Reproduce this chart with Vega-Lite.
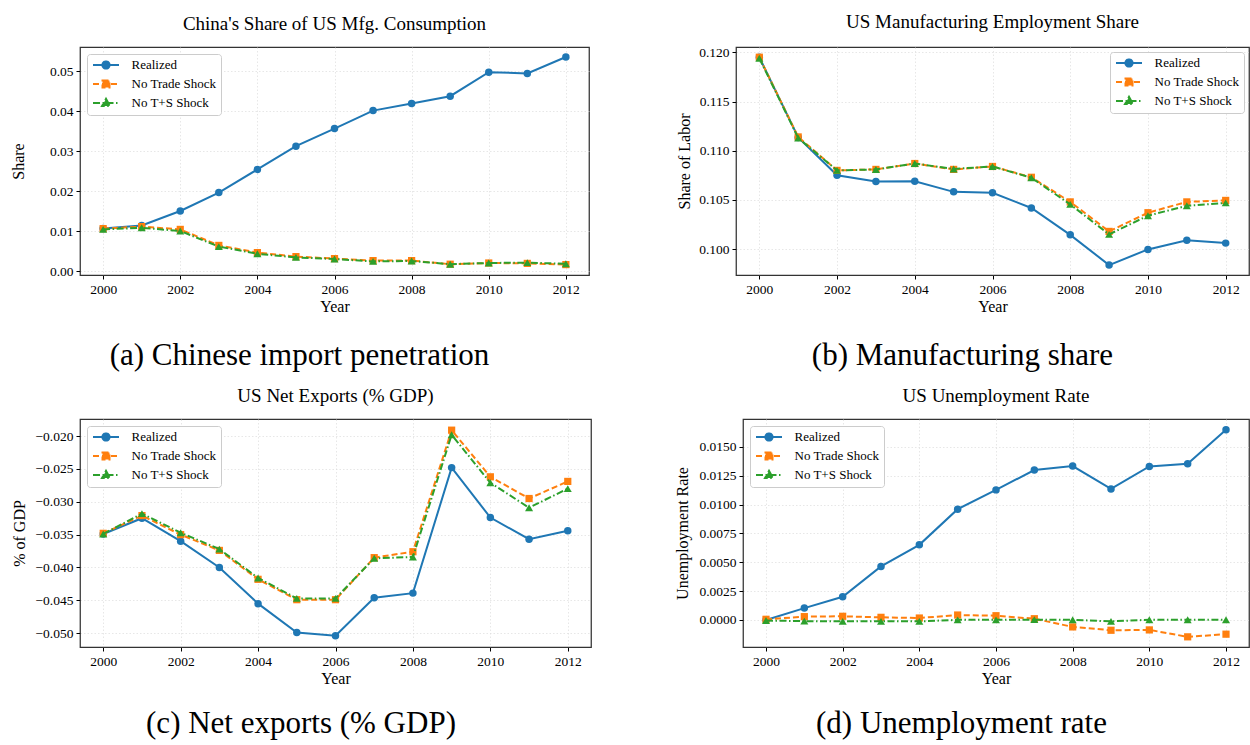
{
  "$schema": "https://vega.github.io/schema/vega-lite/v6.json",
  "padding": {"left": 9, "top": 12, "right": 0, "bottom": 0},
  "config": {
    "font": "Liberation Serif",
    "view": {"stroke": "#333333", "strokeWidth": 1.25},
    "axis": {
      "labelFont": "Liberation Serif", "labelFontSize": 13.5, "labelColor": "#000000",
      "titleFont": "Liberation Serif", "titleFontSize": 16, "titleFontWeight": "normal", "titleColor": "#000000",
      "tickColor": "#000000", "tickSize": 4, "tickWidth": 1, "labelPadding": 3,
      "domain": false, "grid": true, "gridColor": "#dcdcdc", "gridDash": [1.5, 2], "gridWidth": 0.7,
      "labelFlush": false, "labelOverlap": false
    },
    "axisX": {"titlePadding": 3},
    "axisY": {"titlePadding": 5},
    "legend": {
      "title": null, "labelFont": "Liberation Serif", "labelFontSize": 13, "labelColor": "#000000",
      "padding": 4.5, "strokeColor": "#cccccc", "fillColor": "#ffffff", "cornerRadius": 3,
      "rowPadding": 3, "labelOffset": 19, "symbolOffset": 8, "symbolSize": 100,
      "symbolStrokeWidth": 2, "symbolOpacity": 1, "offset": 6.5
    },
    "title": {"font": "Liberation Serif", "fontWeight": "normal", "fontSize": 19, "color": "#000000", "offset": 13, "anchor": "middle"}
  },
  "datasets": {
    "share": [
      {"year": 2000, "series": "Realized", "value": 0.0107}, {"year": 2001, "series": "Realized", "value": 0.0115},
      {"year": 2002, "series": "Realized", "value": 0.0151}, {"year": 2003, "series": "Realized", "value": 0.0197},
      {"year": 2004, "series": "Realized", "value": 0.0255}, {"year": 2005, "series": "Realized", "value": 0.0313},
      {"year": 2006, "series": "Realized", "value": 0.0357}, {"year": 2007, "series": "Realized", "value": 0.0402},
      {"year": 2008, "series": "Realized", "value": 0.0420}, {"year": 2009, "series": "Realized", "value": 0.0438},
      {"year": 2010, "series": "Realized", "value": 0.0498}, {"year": 2011, "series": "Realized", "value": 0.0495},
      {"year": 2012, "series": "Realized", "value": 0.0536},
      {"year": 2000, "series": "No Trade Shock", "value": 0.0107}, {"year": 2001, "series": "No Trade Shock", "value": 0.0112},
      {"year": 2002, "series": "No Trade Shock", "value": 0.0105}, {"year": 2003, "series": "No Trade Shock", "value": 0.0065},
      {"year": 2004, "series": "No Trade Shock", "value": 0.0047}, {"year": 2005, "series": "No Trade Shock", "value": 0.0037},
      {"year": 2006, "series": "No Trade Shock", "value": 0.0032}, {"year": 2007, "series": "No Trade Shock", "value": 0.0027},
      {"year": 2008, "series": "No Trade Shock", "value": 0.0027}, {"year": 2009, "series": "No Trade Shock", "value": 0.0018},
      {"year": 2010, "series": "No Trade Shock", "value": 0.0021}, {"year": 2011, "series": "No Trade Shock", "value": 0.0020},
      {"year": 2012, "series": "No Trade Shock", "value": 0.0017},
      {"year": 2000, "series": "No T+S Shock", "value": 0.0105}, {"year": 2001, "series": "No T+S Shock", "value": 0.0109},
      {"year": 2002, "series": "No T+S Shock", "value": 0.0101}, {"year": 2003, "series": "No T+S Shock", "value": 0.0062},
      {"year": 2004, "series": "No T+S Shock", "value": 0.0044}, {"year": 2005, "series": "No T+S Shock", "value": 0.0035},
      {"year": 2006, "series": "No T+S Shock", "value": 0.0031}, {"year": 2007, "series": "No T+S Shock", "value": 0.0025},
      {"year": 2008, "series": "No T+S Shock", "value": 0.0026}, {"year": 2009, "series": "No T+S Shock", "value": 0.0018},
      {"year": 2010, "series": "No T+S Shock", "value": 0.0021}, {"year": 2011, "series": "No T+S Shock", "value": 0.0022},
      {"year": 2012, "series": "No T+S Shock", "value": 0.0019}
    ],
    "mfg": [
      {"year": 2000, "series": "Realized", "value": 0.1195}, {"year": 2001, "series": "Realized", "value": 0.11135},
      {"year": 2002, "series": "Realized", "value": 0.1075}, {"year": 2003, "series": "Realized", "value": 0.10687},
      {"year": 2004, "series": "Realized", "value": 0.1069}, {"year": 2005, "series": "Realized", "value": 0.10582},
      {"year": 2006, "series": "Realized", "value": 0.10572}, {"year": 2007, "series": "Realized", "value": 0.10418},
      {"year": 2008, "series": "Realized", "value": 0.10145}, {"year": 2009, "series": "Realized", "value": 0.09838},
      {"year": 2010, "series": "Realized", "value": 0.09997}, {"year": 2011, "series": "Realized", "value": 0.10091},
      {"year": 2012, "series": "Realized", "value": 0.10061},
      {"year": 2000, "series": "No Trade Shock", "value": 0.1195}, {"year": 2001, "series": "No Trade Shock", "value": 0.1114},
      {"year": 2002, "series": "No Trade Shock", "value": 0.1080}, {"year": 2003, "series": "No Trade Shock", "value": 0.1081},
      {"year": 2004, "series": "No Trade Shock", "value": 0.1087}, {"year": 2005, "series": "No Trade Shock", "value": 0.1081},
      {"year": 2006, "series": "No Trade Shock", "value": 0.1084}, {"year": 2007, "series": "No Trade Shock", "value": 0.1073},
      {"year": 2008, "series": "No Trade Shock", "value": 0.1048}, {"year": 2009, "series": "No Trade Shock", "value": 0.1018},
      {"year": 2010, "series": "No Trade Shock", "value": 0.1037}, {"year": 2011, "series": "No Trade Shock", "value": 0.1048},
      {"year": 2012, "series": "No Trade Shock", "value": 0.10495},
      {"year": 2000, "series": "No T+S Shock", "value": 0.1194}, {"year": 2001, "series": "No T+S Shock", "value": 0.1113},
      {"year": 2002, "series": "No T+S Shock", "value": 0.1080}, {"year": 2003, "series": "No T+S Shock", "value": 0.1081},
      {"year": 2004, "series": "No T+S Shock", "value": 0.1087}, {"year": 2005, "series": "No T+S Shock", "value": 0.10815},
      {"year": 2006, "series": "No T+S Shock", "value": 0.1084}, {"year": 2007, "series": "No T+S Shock", "value": 0.10725},
      {"year": 2008, "series": "No T+S Shock", "value": 0.10455}, {"year": 2009, "series": "No T+S Shock", "value": 0.1015},
      {"year": 2010, "series": "No T+S Shock", "value": 0.1034}, {"year": 2011, "series": "No T+S Shock", "value": 0.1044},
      {"year": 2012, "series": "No T+S Shock", "value": 0.1047}
    ],
    "nx": [
      {"year": 2000, "series": "Realized", "value": -0.0349}, {"year": 2001, "series": "Realized", "value": -0.0325},
      {"year": 2002, "series": "Realized", "value": -0.0360}, {"year": 2003, "series": "Realized", "value": -0.0400},
      {"year": 2004, "series": "Realized", "value": -0.0455}, {"year": 2005, "series": "Realized", "value": -0.0499},
      {"year": 2006, "series": "Realized", "value": -0.0504}, {"year": 2007, "series": "Realized", "value": -0.0446},
      {"year": 2008, "series": "Realized", "value": -0.0439}, {"year": 2009, "series": "Realized", "value": -0.0248},
      {"year": 2010, "series": "Realized", "value": -0.0324}, {"year": 2011, "series": "Realized", "value": -0.0357},
      {"year": 2012, "series": "Realized", "value": -0.0344},
      {"year": 2000, "series": "No Trade Shock", "value": -0.0348}, {"year": 2001, "series": "No Trade Shock", "value": -0.0321},
      {"year": 2002, "series": "No Trade Shock", "value": -0.0350}, {"year": 2003, "series": "No Trade Shock", "value": -0.0374},
      {"year": 2004, "series": "No Trade Shock", "value": -0.0418}, {"year": 2005, "series": "No Trade Shock", "value": -0.0449},
      {"year": 2006, "series": "No Trade Shock", "value": -0.0449}, {"year": 2007, "series": "No Trade Shock", "value": -0.0385},
      {"year": 2008, "series": "No Trade Shock", "value": -0.0376}, {"year": 2009, "series": "No Trade Shock", "value": -0.0191},
      {"year": 2010, "series": "No Trade Shock", "value": -0.0262}, {"year": 2011, "series": "No Trade Shock", "value": -0.0295},
      {"year": 2012, "series": "No Trade Shock", "value": -0.0269},
      {"year": 2000, "series": "No T+S Shock", "value": -0.0349}, {"year": 2001, "series": "No T+S Shock", "value": -0.0318},
      {"year": 2002, "series": "No T+S Shock", "value": -0.0347}, {"year": 2003, "series": "No T+S Shock", "value": -0.0372},
      {"year": 2004, "series": "No T+S Shock", "value": -0.0416}, {"year": 2005, "series": "No T+S Shock", "value": -0.0447},
      {"year": 2006, "series": "No T+S Shock", "value": -0.0447}, {"year": 2007, "series": "No T+S Shock", "value": -0.0386},
      {"year": 2008, "series": "No T+S Shock", "value": -0.0384}, {"year": 2009, "series": "No T+S Shock", "value": -0.0198},
      {"year": 2010, "series": "No T+S Shock", "value": -0.0271}, {"year": 2011, "series": "No T+S Shock", "value": -0.0309},
      {"year": 2012, "series": "No T+S Shock", "value": -0.0280}
    ],
    "unemp": [
      {"year": 2000, "series": "Realized", "value": 0.0}, {"year": 2001, "series": "Realized", "value": 0.00103},
      {"year": 2002, "series": "Realized", "value": 0.00201}, {"year": 2003, "series": "Realized", "value": 0.00464},
      {"year": 2004, "series": "Realized", "value": 0.00651}, {"year": 2005, "series": "Realized", "value": 0.0096},
      {"year": 2006, "series": "Realized", "value": 0.01127}, {"year": 2007, "series": "Realized", "value": 0.01299},
      {"year": 2008, "series": "Realized", "value": 0.01333}, {"year": 2009, "series": "Realized", "value": 0.01135},
      {"year": 2010, "series": "Realized", "value": 0.0133}, {"year": 2011, "series": "Realized", "value": 0.01353},
      {"year": 2012, "series": "Realized", "value": 0.01648},
      {"year": 2000, "series": "No Trade Shock", "value": 0.00006}, {"year": 2001, "series": "No Trade Shock", "value": 0.00029},
      {"year": 2002, "series": "No Trade Shock", "value": 0.00032}, {"year": 2003, "series": "No Trade Shock", "value": 0.00023},
      {"year": 2004, "series": "No Trade Shock", "value": 0.00017}, {"year": 2005, "series": "No Trade Shock", "value": 0.00043},
      {"year": 2006, "series": "No Trade Shock", "value": 0.00037}, {"year": 2007, "series": "No Trade Shock", "value": 0.00011},
      {"year": 2008, "series": "No Trade Shock", "value": -0.0006}, {"year": 2009, "series": "No Trade Shock", "value": -0.00089},
      {"year": 2010, "series": "No Trade Shock", "value": -0.00086}, {"year": 2011, "series": "No Trade Shock", "value": -0.00146},
      {"year": 2012, "series": "No Trade Shock", "value": -0.00123},
      {"year": 2000, "series": "No T+S Shock", "value": -0.00005}, {"year": 2001, "series": "No T+S Shock", "value": -0.0001},
      {"year": 2002, "series": "No T+S Shock", "value": -0.00012}, {"year": 2003, "series": "No T+S Shock", "value": -0.00012},
      {"year": 2004, "series": "No T+S Shock", "value": -0.00012}, {"year": 2005, "series": "No T+S Shock", "value": 0.00001},
      {"year": 2006, "series": "No T+S Shock", "value": 0.00001}, {"year": 2007, "series": "No T+S Shock", "value": 0.00003},
      {"year": 2008, "series": "No T+S Shock", "value": 0.00002}, {"year": 2009, "series": "No T+S Shock", "value": -0.00012},
      {"year": 2010, "series": "No T+S Shock", "value": 0.00002}, {"year": 2011, "series": "No T+S Shock", "value": 0.00002},
      {"year": 2012, "series": "No T+S Shock", "value": 0.00002}
    ]
  },
  "columns": 1,
  "align": "none",
  "spacing": 14,
  "resolve": {"scale": {"x": "independent", "y": "independent", "color": "independent"}, "legend": {"color": "independent"}},
  "concat": [
    {
      "spacing": 85,
      "resolve": {"scale": {"x": "independent", "y": "independent", "color": "independent"}, "legend": {"color": "independent"}},
      "hconcat": [
        {
          "title": {"text": "(a) Chinese import penetration", "orient": "bottom", "fontSize": 31, "offset": 26, "anchor": "middle"},
          "resolve": {"scale": {"x": "independent", "y": "independent", "color": "independent"}, "legend": {"color": "independent"}},
          "vconcat": [
            {
              "title": "China's Share of US Mfg. Consumption",
              "width": 509, "height": 228,
              "data": {"name": "share"},
              "encoding": {
                "x": {"field": "year", "type": "quantitative", "scale": {"domain": [1999.4, 2012.6], "nice": false, "zero": false},
                      "axis": {"title": "Year", "values": [2000, 2002, 2004, 2006, 2008, 2010, 2012], "format": "d"}},
                "y": {"field": "value", "type": "quantitative", "scale": {"domain": [-0.0009, 0.0561], "nice": false, "zero": false},
                      "axis": {"title": "Share", "values": [0, 0.01, 0.02, 0.03, 0.04, 0.05], "format": ".2f", "minExtent": 49, "maxExtent": 49, "titlePadding": 5}},
                "color": {"field": "series", "type": "nominal",
                          "scale": {"domain": ["Realized", "No Trade Shock", "No T+S Shock"], "range": ["#1f77b4", "#ff7f0e", "#2ca02c"]},
                          "legend": {"orient": "top-left",
                                     "encode": {"symbols": {"update": {
                                       "shape": {"signal": "datum.value === 'Realized' ? 'M-2.6,0H2.6M-0.72,0A0.72,0.72 0 1,1 0.72,0A0.72,0.72 0 1,1 -0.72,0Z' : datum.value === 'No Trade Shock' ? 'M-2.6,0H2.6M-0.7,-0.7H0.7V0.7H-0.7Z' : 'M-2.6,0H2.6M0,-0.82L0.8,0.62H-0.8Z'"},
                                       "strokeDash": {"signal": "datum.value === 'Realized' ? [1, 0] : datum.value === 'No Trade Shock' ? [6, 3] : [7, 2.5, 1.5, 2.5]"},
                                       "fill": {"signal": "datum.value === 'Realized' ? '#1f77b4' : datum.value === 'No Trade Shock' ? '#ff7f0e' : '#2ca02c'"},
                                       "stroke": {"signal": "datum.value === 'Realized' ? '#1f77b4' : datum.value === 'No Trade Shock' ? '#ff7f0e' : '#2ca02c'"},
                                       "opacity": {"value": 1}}}}}}
              },
              "layer": [
                {"transform": [{"filter": {"field": "series", "equal": "Realized"}}],
                 "mark": {"type": "line", "strokeWidth": 2, "point": {"filled": true, "shape": "circle", "size": 56, "opacity": 1}}},
                {"transform": [{"filter": {"field": "series", "equal": "No Trade Shock"}}],
                 "mark": {"type": "line", "strokeWidth": 2, "strokeDash": [6, 3], "point": {"filled": true, "shape": "square", "size": 52, "opacity": 1}}},
                {"transform": [{"filter": {"field": "series", "equal": "No T+S Shock"}}],
                 "mark": {"type": "line", "strokeWidth": 2, "strokeDash": [7, 2.5, 1.5, 2.5], "point": {"filled": true, "shape": "triangle-up", "size": 64, "opacity": 1}}}
              ]
            }
          ]
        },
        {
          "title": {"text": "(b) Manufacturing share", "orient": "bottom", "fontSize": 31, "offset": 26, "anchor": "middle"},
          "resolve": {"scale": {"x": "independent", "y": "independent", "color": "independent"}, "legend": {"color": "independent"}},
          "vconcat": [
            {
              "title": "US Manufacturing Employment Share",
              "width": 513, "height": 228,
              "data": {"name": "mfg"},
              "encoding": {
                "x": {"field": "year", "type": "quantitative", "scale": {"domain": [1999.4, 2012.6], "nice": false, "zero": false},
                      "axis": {"title": "Year", "values": [2000, 2002, 2004, 2006, 2008, 2010, 2012], "format": "d"}},
                "y": {"field": "value", "type": "quantitative", "scale": {"domain": [0.09737, 0.12054], "nice": false, "zero": false},
                      "axis": {"title": "Share of Labor", "values": [0.100, 0.105, 0.110, 0.115, 0.120], "format": ".3f", "minExtent": 39, "maxExtent": 39, "titlePadding": 5}},
                "color": {"field": "series", "type": "nominal",
                          "scale": {"domain": ["Realized", "No Trade Shock", "No T+S Shock"], "range": ["#1f77b4", "#ff7f0e", "#2ca02c"]},
                          "legend": {"orient": "top-right", "offset": 5,
                                     "encode": {"symbols": {"update": {
                                       "shape": {"signal": "datum.value === 'Realized' ? 'M-2.6,0H2.6M-0.72,0A0.72,0.72 0 1,1 0.72,0A0.72,0.72 0 1,1 -0.72,0Z' : datum.value === 'No Trade Shock' ? 'M-2.6,0H2.6M-0.7,-0.7H0.7V0.7H-0.7Z' : 'M-2.6,0H2.6M0,-0.82L0.8,0.62H-0.8Z'"},
                                       "strokeDash": {"signal": "datum.value === 'Realized' ? [1, 0] : datum.value === 'No Trade Shock' ? [6, 3] : [7, 2.5, 1.5, 2.5]"},
                                       "fill": {"signal": "datum.value === 'Realized' ? '#1f77b4' : datum.value === 'No Trade Shock' ? '#ff7f0e' : '#2ca02c'"},
                                       "stroke": {"signal": "datum.value === 'Realized' ? '#1f77b4' : datum.value === 'No Trade Shock' ? '#ff7f0e' : '#2ca02c'"},
                                       "opacity": {"value": 1}}}}}}
              },
              "layer": [
                {"transform": [{"filter": {"field": "series", "equal": "Realized"}}],
                 "mark": {"type": "line", "strokeWidth": 2, "point": {"filled": true, "shape": "circle", "size": 56, "opacity": 1}}},
                {"transform": [{"filter": {"field": "series", "equal": "No Trade Shock"}}],
                 "mark": {"type": "line", "strokeWidth": 2, "strokeDash": [6, 3], "point": {"filled": true, "shape": "square", "size": 52, "opacity": 1}}},
                {"transform": [{"filter": {"field": "series", "equal": "No T+S Shock"}}],
                 "mark": {"type": "line", "strokeWidth": 2, "strokeDash": [7, 2.5, 1.5, 2.5], "point": {"filled": true, "shape": "triangle-up", "size": 64, "opacity": 1}}}
              ]
            }
          ]
        }
      ]
    },
    {
      "spacing": 81,
      "resolve": {"scale": {"x": "independent", "y": "independent", "color": "independent"}, "legend": {"color": "independent"}},
      "hconcat": [
        {
          "title": {"text": "(c) Net exports (% GDP)", "orient": "bottom", "fontSize": 31, "offset": 22, "anchor": "middle"},
          "resolve": {"scale": {"x": "independent", "y": "independent", "color": "independent"}, "legend": {"color": "independent"}},
          "vconcat": [
            {
              "title": "US Net Exports (% GDP)",
              "width": 511, "height": 228,
              "data": {"name": "nx"},
              "encoding": {
                "x": {"field": "year", "type": "quantitative", "scale": {"domain": [1999.4, 2012.6], "nice": false, "zero": false},
                      "axis": {"title": "Year", "values": [2000, 2002, 2004, 2006, 2008, 2010, 2012], "format": "d"}},
                "y": {"field": "value", "type": "quantitative", "scale": {"domain": [-0.0521, -0.0174], "nice": false, "zero": false},
                      "axis": {"title": "% of GDP", "values": [-0.050, -0.045, -0.040, -0.035, -0.030, -0.025, -0.020], "format": ".3f", "minExtent": 48, "maxExtent": 48, "titlePadding": 5}},
                "color": {"field": "series", "type": "nominal",
                          "scale": {"domain": ["Realized", "No Trade Shock", "No T+S Shock"], "range": ["#1f77b4", "#ff7f0e", "#2ca02c"]},
                          "legend": {"orient": "top-left",
                                     "encode": {"symbols": {"update": {
                                       "shape": {"signal": "datum.value === 'Realized' ? 'M-2.6,0H2.6M-0.72,0A0.72,0.72 0 1,1 0.72,0A0.72,0.72 0 1,1 -0.72,0Z' : datum.value === 'No Trade Shock' ? 'M-2.6,0H2.6M-0.7,-0.7H0.7V0.7H-0.7Z' : 'M-2.6,0H2.6M0,-0.82L0.8,0.62H-0.8Z'"},
                                       "strokeDash": {"signal": "datum.value === 'Realized' ? [1, 0] : datum.value === 'No Trade Shock' ? [6, 3] : [7, 2.5, 1.5, 2.5]"},
                                       "fill": {"signal": "datum.value === 'Realized' ? '#1f77b4' : datum.value === 'No Trade Shock' ? '#ff7f0e' : '#2ca02c'"},
                                       "stroke": {"signal": "datum.value === 'Realized' ? '#1f77b4' : datum.value === 'No Trade Shock' ? '#ff7f0e' : '#2ca02c'"},
                                       "opacity": {"value": 1}}}}}}
              },
              "layer": [
                {"transform": [{"filter": {"field": "series", "equal": "Realized"}}],
                 "mark": {"type": "line", "strokeWidth": 2, "point": {"filled": true, "shape": "circle", "size": 56, "opacity": 1}}},
                {"transform": [{"filter": {"field": "series", "equal": "No Trade Shock"}}],
                 "mark": {"type": "line", "strokeWidth": 2, "strokeDash": [6, 3], "point": {"filled": true, "shape": "square", "size": 52, "opacity": 1}}},
                {"transform": [{"filter": {"field": "series", "equal": "No T+S Shock"}}],
                 "mark": {"type": "line", "strokeWidth": 2, "strokeDash": [7, 2.5, 1.5, 2.5], "point": {"filled": true, "shape": "triangle-up", "size": 64, "opacity": 1}}}
              ]
            }
          ]
        },
        {
          "title": {"text": "(d) Unemployment rate", "orient": "bottom", "fontSize": 31, "offset": 22, "anchor": "middle"},
          "resolve": {"scale": {"x": "independent", "y": "independent", "color": "independent"}, "legend": {"color": "independent"}},
          "vconcat": [
            {
              "title": "US Unemployment Rate",
              "width": 506, "height": 228,
              "data": {"name": "unemp"},
              "encoding": {
                "x": {"field": "year", "type": "quantitative", "scale": {"domain": [1999.4, 2012.6], "nice": false, "zero": false},
                      "axis": {"title": "Year", "values": [2000, 2002, 2004, 2006, 2008, 2010, 2012], "format": "d"}},
                "y": {"field": "value", "type": "quantitative", "scale": {"domain": [-0.00234, 0.01741], "nice": false, "zero": false},
                      "axis": {"title": "Unemployment Rate", "values": [0, 0.0025, 0.005, 0.0075, 0.01, 0.0125, 0.015], "format": ".4f", "minExtent": 46, "maxExtent": 46, "titlePadding": 7}},
                "color": {"field": "series", "type": "nominal",
                          "scale": {"domain": ["Realized", "No Trade Shock", "No T+S Shock"], "range": ["#1f77b4", "#ff7f0e", "#2ca02c"]},
                          "legend": {"orient": "top-left",
                                     "encode": {"symbols": {"update": {
                                       "shape": {"signal": "datum.value === 'Realized' ? 'M-2.6,0H2.6M-0.72,0A0.72,0.72 0 1,1 0.72,0A0.72,0.72 0 1,1 -0.72,0Z' : datum.value === 'No Trade Shock' ? 'M-2.6,0H2.6M-0.7,-0.7H0.7V0.7H-0.7Z' : 'M-2.6,0H2.6M0,-0.82L0.8,0.62H-0.8Z'"},
                                       "strokeDash": {"signal": "datum.value === 'Realized' ? [1, 0] : datum.value === 'No Trade Shock' ? [6, 3] : [7, 2.5, 1.5, 2.5]"},
                                       "fill": {"signal": "datum.value === 'Realized' ? '#1f77b4' : datum.value === 'No Trade Shock' ? '#ff7f0e' : '#2ca02c'"},
                                       "stroke": {"signal": "datum.value === 'Realized' ? '#1f77b4' : datum.value === 'No Trade Shock' ? '#ff7f0e' : '#2ca02c'"},
                                       "opacity": {"value": 1}}}}}}
              },
              "layer": [
                {"transform": [{"filter": {"field": "series", "equal": "Realized"}}],
                 "mark": {"type": "line", "strokeWidth": 2, "point": {"filled": true, "shape": "circle", "size": 56, "opacity": 1}}},
                {"transform": [{"filter": {"field": "series", "equal": "No Trade Shock"}}],
                 "mark": {"type": "line", "strokeWidth": 2, "strokeDash": [6, 3], "point": {"filled": true, "shape": "square", "size": 52, "opacity": 1}}},
                {"transform": [{"filter": {"field": "series", "equal": "No T+S Shock"}}],
                 "mark": {"type": "line", "strokeWidth": 2, "strokeDash": [7, 2.5, 1.5, 2.5], "point": {"filled": true, "shape": "triangle-up", "size": 64, "opacity": 1}}}
              ]
            }
          ]
        }
      ]
    }
  ]
}
